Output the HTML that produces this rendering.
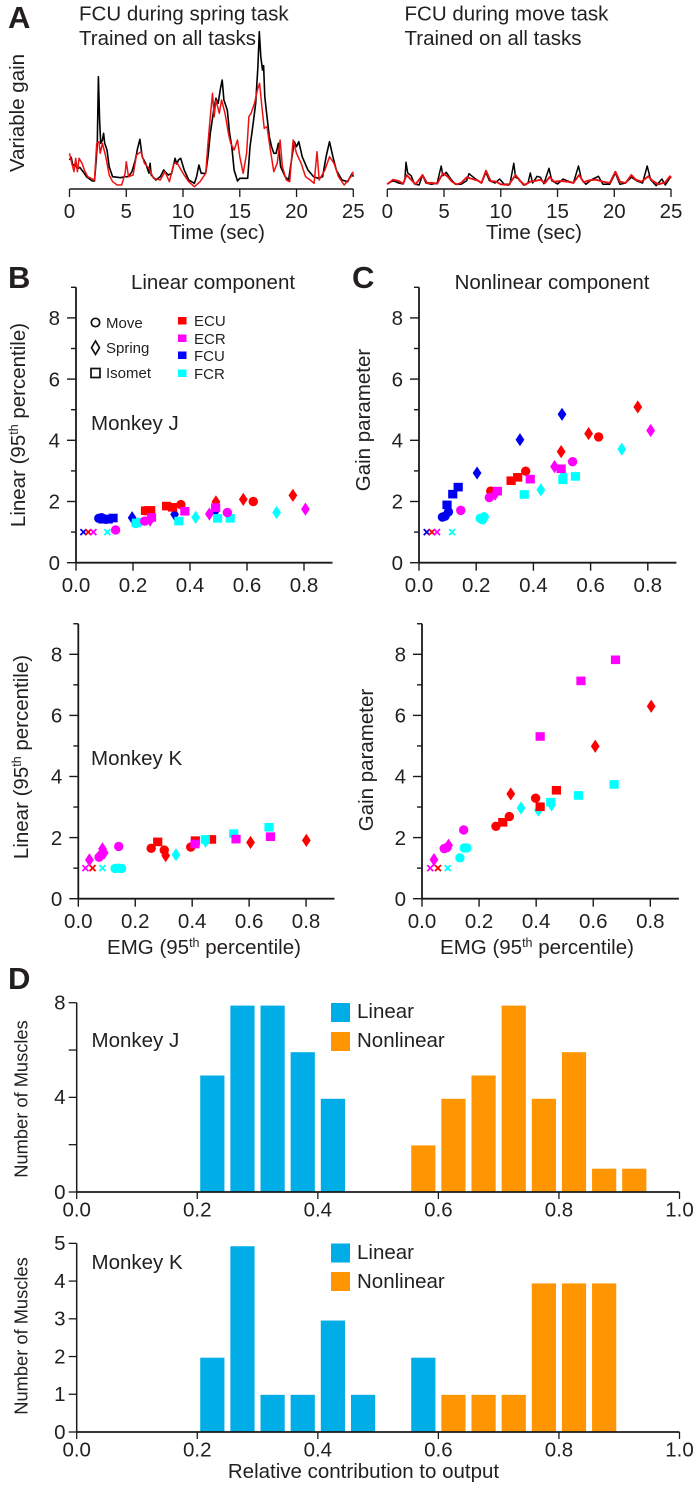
<!DOCTYPE html>
<html lang="en">
<head>
<meta charset="utf-8">
<title>Variable gain and muscle contribution figure</title>
<style>
html,body{margin:0;padding:0;background:#fff;}
svg{display:block;font-family:"Liberation Sans",Arial,sans-serif;fill:#231f20;}
text{font-size:20.5px;}
.letter{font-size:31px;font-weight:bold;}
.small{font-size:15px;}
</style>
</head>
<body>
<svg id="fig" xmlns="http://www.w3.org/2000/svg" width="695" height="1489" viewBox="0 0 695 1489">
  <text class="letter" x="8" y="28">A</text>
  <text class="letter" x="8" y="288">B</text>
  <text class="letter" x="352" y="288">C</text>
  <text class="letter" x="8" y="989">D</text>

  <text x="79" y="20.5">FCU during spring task</text>
  <text x="79" y="45">Trained on all tasks</text>
  <text x="404.5" y="20.5">FCU during move task</text>
  <text x="404.5" y="45">Trained on all tasks</text>
  <text transform="translate(24,113) rotate(-90)" text-anchor="middle">Variable gain</text>
  <text x="217" y="239" text-anchor="middle">Time (sec)</text>
  <text x="534" y="239" text-anchor="middle">Time (sec)</text>

  <text x="213" y="289" text-anchor="middle">Linear component</text>
  <text x="552" y="289" text-anchor="middle">Nonlinear component</text>

  <text transform="translate(25,425) rotate(-90)" text-anchor="middle">Linear (95<tspan font-size="12.5" dy="-7">th</tspan><tspan dy="7"> percentile)</tspan></text>
  <text transform="translate(370,420) rotate(-90)" text-anchor="middle">Gain parameter</text>
  <text transform="translate(28,757) rotate(-90)" text-anchor="middle">Linear (95<tspan font-size="12.5" dy="-7">th</tspan><tspan dy="7"> percentile)</tspan></text>
  <text transform="translate(373,760) rotate(-90)" text-anchor="middle">Gain parameter</text>

  <text x="204" y="954" text-anchor="middle">EMG (95<tspan font-size="12.5" dy="-7">th</tspan><tspan dy="7"> percentile)</tspan></text>
  <text x="537" y="954" text-anchor="middle">EMG (95<tspan font-size="12.5" dy="-7">th</tspan><tspan dy="7"> percentile)</tspan></text>

  <text x="91" y="430">Monkey J</text>
  <text x="91" y="765">Monkey K</text>

  <g>
    <circle cx="95.5" cy="322.5" r="4.2" fill="none" stroke="#111" stroke-width="1.7"/>
    <text class="small" x="106" y="328">Move</text>
    <polygon points="95.5,341 99.5,347.7 95.5,354.4 91.5,347.7" fill="none" stroke="#111" stroke-width="1.7"/>
    <text class="small" x="106" y="353">Spring</text>
    <rect x="91" y="368.5" width="9" height="9" fill="none" stroke="#111" stroke-width="1.7"/>
    <text class="small" x="106" y="378">Isomet</text>
  </g>
  <g>
    <rect x="178" y="317" width="8.5" height="7.5" fill="#f00"/>
    <text class="small" x="194" y="326">ECU</text>
    <rect x="178" y="334.5" width="8.5" height="7.5" fill="#f0f"/>
    <text class="small" x="194" y="344">ECR</text>
    <rect x="178" y="351.5" width="8.5" height="7.5" fill="#00f"/>
    <text class="small" x="194" y="361">FCU</text>
    <rect x="178" y="369.5" width="8.5" height="7.5" fill="#0ff"/>
    <text class="small" x="194" y="379">FCR</text>
  </g>

  <text x="91.5" y="1047">Monkey J</text>
  <text x="91.5" y="1269">Monkey K</text>
  <text transform="translate(27.5,1099) rotate(-90)" text-anchor="middle" style="font-size:18.3px">Number of Muscles</text>
  <text transform="translate(27.5,1336) rotate(-90)" text-anchor="middle" style="font-size:18.3px">Number of Muscles</text>
  <text x="363.5" y="1478" text-anchor="middle">Relative contribution to output</text>

  <g>
    <rect x="331" y="1003" width="19" height="19" fill="#00ade6"/>
    <text x="357" y="1018">Linear</text>
    <rect x="331" y="1032" width="19" height="19" fill="#ff9500"/>
    <text x="357" y="1047">Nonlinear</text>
  </g>
  <g>
    <rect x="331" y="1243.5" width="19" height="19" fill="#00ade6"/>
    <text x="357" y="1259">Linear</text>
    <rect x="331" y="1272" width="19" height="19" fill="#ff9500"/>
    <text x="357" y="1288">Nonlinear</text>
  </g>
</svg>
<script>
// ---- Panel A: variable gain traces (time in seconds, gain in arbitrary units) ----
const timeTicks = [0, 5, 10, 15, 20, 25];
const springActualTime = [0,.15,.3,.5,.7,.9,1.2,1.5,2,2.2,2.35,2.45,2.55,2.65,2.75,2.9,3,3.1,3.3,3.5,3.8,4.5,4.9,5.2,5.5,5.8,6,6.2,6.4,6.7,7,7.1,7.2,7.6,8,8.3,8.7,9,9.3,9.45,9.6,9.8,10.1,10.5,11,11.2,11.4,11.6,12,12.2,12.4,12.7,12.9,13.1,13.3,13.45,13.6,13.9,14.1,14.3,14.5,14.8,15,15.3,15.7,15.9,16.1,16.4,16.6,16.72,16.85,17,17.1,17.2,17.4,17.6,17.8,18,18.2,18.4,18.6,19,19.3,19.6,19.8,20,20.2,20.5,21,21.5,21.9,22.3,22.6,22.9,23.2,23.5,24,24.5,24.9,25];
const springActualGain = [87,95,70,75,60,65,52,37,24,24,87,137,337,207,137,147,167,137,117,67,37,34,37,37,52,87,122,149,97,77,47,77,42,27,37,57,42,47,92,75,87,92,57,27,17,37,72,47,47,97,167,237,272,257,302,327,267,237,167,127,57,24,32,32,32,127,177,257,367,472,397,357,370,277,217,157,127,107,107,137,67,37,27,97,142,127,142,97,57,37,32,37,97,142,97,57,27,22,47,37];
const springModelTime = [0,.2,.4,.55,.7,.85,1.1,1.3,1.6,2.2,2.4,2.6,2.7,2.9,3.2,3.5,3.8,4.2,4.6,4.9,5,5.2,5.6,5.9,6.3,6.6,7,7.4,8,8.4,8.8,9.2,9.5,10,10.5,11,11.5,12,12.2,12.4,12.6,12.75,12.9,13.2,13.4,13.7,14,14.2,14.5,14.8,15,15.3,15.6,15.8,16,16.3,16.55,16.75,16.95,17.15,17.4,17.7,18,18.3,18.55,18.75,19.1,19.4,19.7,20,20.4,20.8,21.2,21.55,21.8,22,22.5,22.9,23.3,23.7,24.2,24.8,25];
const springModelGain = [107,77,52,92,52,92,77,57,37,27,137,142,107,137,97,42,22,12,12,47,82,37,42,102,112,77,62,32,27,52,22,77,77,47,22,7,22,47,137,217,287,217,267,227,267,227,167,137,117,147,97,47,107,217,227,257,297,317,247,182,187,117,52,77,147,67,27,22,147,107,77,37,27,17,112,27,57,97,77,37,12,37,52];
const moveActualTime = [0,.5,1,1.4,1.55,1.65,1.8,2.1,2.4,2.8,3.1,3.4,3.9,4.4,4.75,4.9,5.2,5.6,6,6.5,7,7.2,7.6,8,8.3,8.7,9,9.5,9.9,10.3,10.8,11.15,11.3,11.6,12,12.4,12.6,12.8,13.2,13.5,13.8,14.25,14.5,15,15.5,15.9,16.4,16.85,17.1,17.5,18,18.6,19,19.6,20.1,20.5,21,21.5,22,22.5,22.9,23.2,23.7,24.2,24.5,25];
const moveActualGain = [15,25,18,15,30,80,48,40,15,12,42,18,14,18,69,40,50,30,14,14,25,46,35,25,18,50,25,18,30,14,14,77,35,30,12,18,48,18,38,35,16,62,25,15,30,24,18,69,30,14,28,38,14,14,48,14,18,35,24,18,69,28,10,30,12,38];
const moveModelTime = [0,.5,1,1.4,1.7,2.1,2.5,3.1,3.5,4,4.4,4.9,5.3,5.7,6.1,6.5,7,7.5,8,8.3,8.7,9.1,9.6,10,10.7,11.3,11.7,12.1,12.6,13,13.5,13.9,14.3,14.7,15.3,15.9,16.4,16.9,17.3,17.8,18.4,19,19.6,20.1,20.5,21,21.5,21.9,22.4,23,23.4,23.9,24.5,24.9,25];
const moveModelGain = [14,28,24,16,42,28,14,42,18,18,16,47,38,22,14,18,35,30,25,18,55,24,22,14,12,42,24,12,22,24,28,18,36,22,24,22,18,42,20,26,28,22,18,52,22,18,42,28,22,38,24,14,20,38,32];

// ---- Panels B & C: scatter rows [EMG, y value, muscle, task] ----
const emgTicks = [0, 0.2, 0.4, 0.6, 0.8];
const yMajorTicks = [0, 2, 4, 6, 8];
const yMinorTicks = [1, 3, 5, 7, 9];
const monkeyJLinear = [
 [.026,1,'FCU','x'],[.043,1,'ECU','x'],[.061,1,'ECR','x'],[.11,1,'FCR','x'],
 [.08,1.45,'FCU','move'],[.09,1.47,'FCU','move'],[.105,1.42,'FCU','move'],[.095,1.42,'FCU','isomet'],[.113,1.42,'FCU','isomet'],[.13,1.46,'FCU','isomet'],[.197,1.47,'FCU','spring'],[.346,1.58,'FCU','spring'],[.49,1.7,'FCU','spring'],
 [.244,1.7,'ECU','move'],[.244,1.7,'ECU','isomet'],[.262,1.71,'ECU','isomet'],[.318,1.85,'ECU','isomet'],[.339,1.81,'ECU','isomet'],[.368,1.9,'ECU','move'],[.491,1.99,'ECU','spring'],[.587,2.07,'ECU','spring'],[.622,2,'ECU','move'],[.761,2.2,'ECU','spring'],
 [.21,1.28,'FCR','move'],[.22,1.32,'FCR','move'],[.212,1.3,'FCR','isomet'],[.361,1.36,'FCR','isomet'],[.42,1.48,'FCR','spring'],[.497,1.45,'FCR','isomet'],[.541,1.45,'FCR','isomet'],[.704,1.64,'FCR','spring'],
 [.139,1.07,'ECR','move'],[.241,1.36,'ECR','move'],[.26,1.39,'ECR','spring'],[.265,1.48,'ECR','isomet'],[.382,1.68,'ECR','isomet'],[.468,1.59,'ECR','spring'],[.49,1.8,'ECR','isomet'],[.531,1.64,'ECR','move'],[.805,1.75,'ECR','spring']
];
const monkeyJGain = [
 [.027,1,'FCU','x'],[.045,1,'ECU','x'],[.063,1,'ECR','x'],[.116,1,'FCR','x'],
 [.082,1.49,'FCU','move'],[.091,1.52,'FCU','move'],[.103,1.66,'FCU','move'],[.098,1.89,'FCU','isomet'],[.118,2.24,'FCU','isomet'],[.137,2.47,'FCU','isomet'],[.203,2.93,'FCU','spring'],[.353,4.02,'FCU','spring'],[.5,4.85,'FCU','spring'],
 [.251,2.34,'ECU','move'],[.322,2.68,'ECU','isomet'],[.345,2.79,'ECU','isomet'],[.373,2.99,'ECU','move'],[.497,3.63,'ECU','spring'],[.593,4.22,'ECU','spring'],[.628,4.11,'ECU','move'],[.765,5.09,'ECU','spring'],
 [.214,1.45,'FCR','move'],[.222,1.4,'FCR','move'],[.228,1.5,'FCR','move'],[.368,2.23,'FCR','isomet'],[.426,2.38,'FCR','spring'],[.505,2.86,'FCR','spring'],[.503,2.71,'FCR','isomet'],[.547,2.82,'FCR','isomet'],[.709,3.71,'FCR','spring'],
 [.146,1.71,'ECR','move'],[.246,2.13,'ECR','move'],[.266,2.24,'ECR','spring'],[.274,2.34,'ECR','isomet'],[.389,2.73,'ECR','isomet'],[.474,3.14,'ECR','spring'],[.497,3.07,'ECR','isomet'],[.537,3.3,'ECR','move'],[.81,4.32,'ECR','spring']
];
const monkeyKLinear = [
 [.025,1,'ECR','x'],[.05,1,'ECU','x'],[.085,1,'FCR','x'],
 [.129,.99,'FCR','move'],[.14,1,'FCR','move'],[.152,.99,'FCR','move'],
 [.256,1.65,'ECU','move'],[.279,1.86,'ECU','isomet'],[.302,1.59,'ECU','move'],[.307,1.41,'ECU','spring'],[.395,1.69,'ECU','move'],[.411,1.9,'ECU','isomet'],[.468,1.94,'ECU','isomet'],[.605,1.84,'ECU','spring'],[.801,1.91,'ECU','spring'],
 [.343,1.44,'FCR','spring'],[.447,1.88,'FCR','spring'],[.446,1.94,'FCR','isomet'],[.546,2.13,'FCR','isomet'],[.67,2.34,'FCR','isomet'],
 [.039,1.27,'ECR','spring'],[.073,1.36,'ECR','move'],[.08,1.43,'ECR','move'],[.085,1.63,'ECR','spring'],[.091,1.5,'ECR','spring'],[.142,1.71,'ECR','move'],[.41,1.79,'ECR','isomet'],[.554,1.95,'ECR','isomet'],[.675,2.03,'ECR','isomet']
];
const monkeyKGain = [
 [.029,1,'ECR','x'],[.056,1,'ECU','x'],[.09,1,'FCR','x'],
 [.133,1.34,'FCR','move'],[.148,1.66,'FCR','move'],[.157,1.66,'FCR','move'],[.347,2.97,'FCR','spring'],[.408,2.9,'FCR','spring'],[.454,3.07,'FCR','spring'],[.451,3.16,'FCR','isomet'],[.548,3.38,'FCR','isomet'],[.673,3.74,'FCR','isomet'],
 [.259,2.37,'ECU','move'],[.283,2.5,'ECU','isomet'],[.306,2.69,'ECU','move'],[.311,3.43,'ECU','spring'],[.398,3.29,'ECU','move'],[.414,3.01,'ECU','isomet'],[.471,3.55,'ECU','isomet'],[.607,4.99,'ECU','spring'],[.803,6.3,'ECU','spring'],
 [.042,1.28,'ECR','spring'],[.078,1.64,'ECR','move'],[.088,1.68,'ECR','move'],[.093,1.75,'ECR','spring'],[.146,2.25,'ECR','move'],[.414,5.31,'ECR','isomet'],[.557,7.13,'ECR','isomet'],[.678,7.82,'ECR','isomet']
];
const muscleColor = {ECU:'#ff0000', ECR:'#ff00ff', FCU:'#0000f0', FCR:'#00ffff'};

// ---- Panel D: histograms (bin centre, muscle count) ----
const contributionTicks = [0, 0.2, 0.4, 0.6, 0.8, 1.0];
const jLinearBins = [.225,.275,.325,.375,.425];
const jLinearCounts = [5,8,8,6,4];
const jNonlinearBins = [.575,.625,.675,.725,.775,.825,.875,.925];
const jNonlinearCounts = [2,4,5,8,4,6,1,1];
const kLinearBins = [.225,.275,.325,.375,.425,.475,.575];
const kLinearCounts = [2,5,1,1,3,1,2];
const kNonlinearBins = [.625,.675,.725,.775,.825,.875];
const kNonlinearCounts = [1,1,1,4,4,4];
const jCountTicks = [0,4,8];
const jCountMinorTicks = [2,6];
const kCountTicks = [0,1,2,3,4,5];

const svg = document.getElementById('fig');
const NS = 'http://www.w3.org/2000/svg';
function make(tag, attrs, parent){
  const el = document.createElementNS(NS, tag);
  for (const k in attrs) el.setAttribute(k, attrs[k]);
  (parent || svg).appendChild(el);
  return el;
}
function makeGroup(name){
  const g = make('g', {});
  
  
  return g;
}
function axisLine(g, x1, y1, x2, y2, w, name){
  const l = make('line', {x1:x1, y1:y1, x2:x2, y2:y2, stroke:'#1a1a1a', 'stroke-width':w}, g);
  
  
  return l;
}
function tickText(g, x, y, s, anchor, name){
  const t = make('text', {x:x, y:y, 'text-anchor':anchor}, g);
  t.textContent = s;
  
  
  return t;
}

function drawTraceAxis(x0, x25, name){
  const g = makeGroup(name);
  const xs = t => x0 + (x25 - x0) * t / 25;
  axisLine(g, x0, 189, x25, 189, 1.4, 'time-axis-line');
  timeTicks.forEach(t => {
    axisLine(g, xs(t), 189, xs(t), 197, 1.3, 'time-tick');
    tickText(g, xs(t), 218, String(t), 'middle', 'time-tick-label');
  });
  return xs;
}
function drawTrace(xs, times, gains, color, width, name){
  const yGain = v => 189 - v / 3;
  let d = '';
  times.forEach((t, i) => { d += (i ? 'L' : 'M') + xs(t).toFixed(1) + ' ' + yGain(gains[i]).toFixed(1); });
  const p = make('path', {d:d, fill:'none', stroke:color, 'stroke-width':width, 'stroke-linejoin':'round'});
  
  
}
const xsSpring = drawTraceAxis(69.5, 353.3, 'spring-time-axis');
drawTrace(xsSpring, springActualTime, springActualGain, '#000', 1.6, 'spring-actual-trace');
drawTrace(xsSpring, springModelTime, springModelGain, '#ee1111', 1.5, 'spring-model-trace');
const xsMove = drawTraceAxis(387.3, 671, 'move-time-axis');
drawTrace(xsMove, moveActualTime, moveActualGain, '#000', 1.5, 'move-actual-trace');
drawTrace(xsMove, moveModelTime, moveModelGain, '#e60f14', 1.9, 'move-model-trace');

function drawScatter(x0, xUnit, y0, yUnit, rows, name){
  const g = makeGroup(name);
  const xs = v => x0 + v * xUnit;
  const ys = v => y0 - v * yUnit;
  axisLine(g, x0, ys(9), x0, y0, 1.8, 'y-axis-line');
  axisLine(g, x0, y0, xs(0.9), y0, 1.8, 'x-axis-line');
  yMajorTicks.forEach(v => {
    axisLine(g, x0 - 9, ys(v), x0, ys(v), 1.4, 'y-major-tick');
    tickText(g, x0 - 16, ys(v) + 7.2, String(v), 'end', 'y-tick-label');
  });
  yMinorTicks.forEach(v => {
    axisLine(g, x0 - 5, ys(v), x0, ys(v), 1.4, 'y-minor-tick');
  });
  emgTicks.forEach(v => {
    axisLine(g, xs(v), y0, xs(v), y0 + 8, 1.4, 'x-tick');
    tickText(g, xs(v), y0 + 29.5, v.toFixed(1), 'middle', 'x-tick-label');
  });
  rows.forEach(r => {
    const cx = xs(r[0]), cy = ys(r[1]), col = muscleColor[r[2]];
    let m;
    if (r[3] === 'move') {
      m = make('circle', {cx:cx, cy:cy, r:4.7, fill:col}, g);
    } else if (r[3] === 'isomet') {
      m = make('rect', {x:cx - 4.6, y:cy - 4.3, width:9.2, height:8.6, fill:col}, g);
    } else if (r[3] === 'spring') {
      m = make('polygon', {points:[cx, cy - 6.6, cx + 4.4, cy, cx, cy + 6.6, cx - 4.4, cy].join(' '), fill:col}, g);
    } else {
      const s = 3;
      m = make('path', {d:'M' + (cx - s) + ' ' + (cy - s) + 'L' + (cx + s) + ' ' + (cy + s) + 'M' + (cx - s) + ' ' + (cy + s) + 'L' + (cx + s) + ' ' + (cy - s), stroke:col, 'stroke-width':1.8, fill:'none'}, g);
    }
    
    
  });
}
drawScatter(76, 285, 562.7, 30.6, monkeyJLinear, 'linear-scatter-monkey-j');
drawScatter(419, 286, 562.7, 30.6, monkeyJGain, 'nonlinear-scatter-monkey-j');
drawScatter(78.3, 284.7, 898.7, 30.55, monkeyKLinear, 'linear-scatter-monkey-k');
drawScatter(422, 285.4, 898.7, 30.55, monkeyKGain, 'nonlinear-scatter-monkey-k');

function drawHistogram(y0, tickUnit, barUnit, ticks, minor, linB, linC, nonB, nonC, name){
  const g = makeGroup(name);
  const x0 = 76.7, xUnit = 602.8;
  const xs = v => x0 + v * xUnit;
  const drawBars = (bins, counts, color, label) => {
    bins.forEach((b, i) => {
      const h = counts[i] * barUnit;
      const r = make('rect', {x:xs(b) - 12.1, y:y0 - h, width:24.2, height:h, fill:color}, g);
      
      
    });
  };
  drawBars(linB, linC, '#00ade6', 'linear');
  drawBars(nonB, nonC, '#ff9500', 'nonlinear');
  axisLine(g, x0, y0 - ticks[ticks.length - 1] * tickUnit, x0, y0, 1.5, 'y-axis-line');
  axisLine(g, x0, y0, xs(1), y0, 1.8, 'x-axis-line');
  ticks.forEach(v => {
    axisLine(g, x0 - 8, y0 - v * tickUnit, x0, y0 - v * tickUnit, 1.3, 'y-tick');
    tickText(g, 65.5, y0 - v * tickUnit + 6.8, String(v), 'end', 'y-tick-label');
  });
  minor.forEach(v => {
    axisLine(g, x0 - 8, y0 - v * tickUnit, x0, y0 - v * tickUnit, 1.3, 'y-minor-tick');
  });
  contributionTicks.forEach(v => {
    axisLine(g, xs(v), y0, xs(v), y0 + 7, 1.3, 'x-tick');
    tickText(g, xs(v), y0 + 24.5, v.toFixed(1), 'middle', 'x-tick-label');
  });
}
drawHistogram(1192, 23.66, 23.3, jCountTicks, jCountMinorTicks, jLinearBins, jLinearCounts, jNonlinearBins, jNonlinearCounts, 'contribution-histogram-monkey-j');
drawHistogram(1432, 37.73, 37.15, kCountTicks, [], kLinearBins, kLinearCounts, kNonlinearBins, kNonlinearCounts, 'contribution-histogram-monkey-k');
</script>
</body>
</html>
